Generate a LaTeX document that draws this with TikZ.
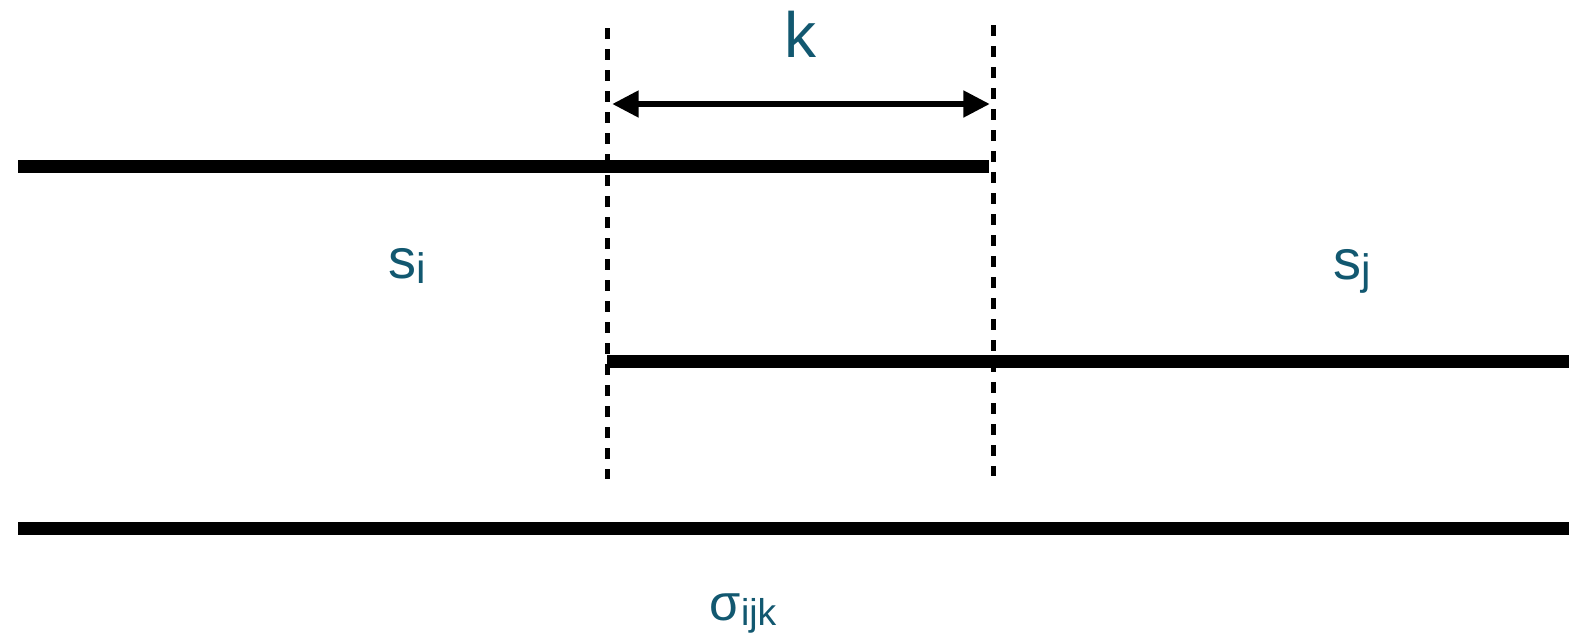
\documentclass[tikz,border=0pt]{standalone}
\usepackage{fontspec}
\setmainfont{Liberation Sans}
\usetikzlibrary{arrows.meta}
\definecolor{lbl}{RGB}{18,88,112}
\begin{document}
\begin{tikzpicture}[x=0.75pt,y=-0.75pt,
  bar/.style={line width=9.75pt},
  guide/.style={line width=3.75pt,dash pattern=on 8.25pt off 7.5pt},
  dim/.style={line width=5.2pt,{Triangle[length=20pt,width=19pt]}-{Triangle[length=20pt,width=19pt]}},
  lbl/.style={text=lbl,inner sep=0pt,anchor=base}]
\useasboundingbox (0,0) rectangle (1569,636);
% coordinates
\coordinate (t1) at (18,166.5);
\coordinate (t2) at (989,166.5);
\coordinate (m1) at (607,361.5);
\coordinate (m2) at (1569,361.5);
\coordinate (b1) at (18,528.5);
\coordinate (b2) at (1569,528.5);
\coordinate (g1a) at (607,28);
\coordinate (g1b) at (607,479);
\coordinate (g2a) at (993,25);
\coordinate (g2b) at (993,476);
\coordinate (a1) at (612,104);
\coordinate (a2) at (990,104);
% bars
\draw[bar] (t1) -- (t2);
\draw[bar] (m1) -- (m2);
\draw[bar] (b1) -- (b2);
% guides
\draw[guide] (g1a) -- (g1b);
\draw[guide] (g2a) -- (g2b);
% dimension arrow
\draw[dim] (a1) -- (a2);
% labels
\node[lbl] (k) at (800,57) {\fontsize{48}{50}\selectfont k};
\node[lbl] (si) at (407,278) {\fontsize{42}{46}\selectfont s\raisebox{-4pt}{\fontsize{32}{36}\selectfont i}};
\node[lbl] (sj) at (1352,279) {\fontsize{42}{46}\selectfont s\raisebox{-4pt}{\fontsize{32}{36}\selectfont j}};
\node[lbl] (sigma) at (743,620) {\fontsize{38}{42}\selectfont σ\raisebox{-4pt}{\fontsize{28}{32}\selectfont ijk}};
\end{tikzpicture}
\end{document}
